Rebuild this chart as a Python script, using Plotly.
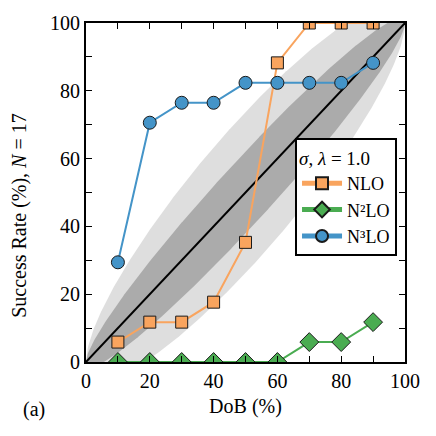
import numpy as np
import plotly.graph_objects as go

# ---- data ----
dob = [10, 20, 30, 40, 50, 60, 70, 80, 90]
N_OBS = 17
nlo = [5.88, 11.76, 11.76, 17.65, 35.29, 88.24, 100.0, 100.0, 100.0]
n2lo = [0.0, 0.0, 0.0, 0.0, 0.0, 0.0, 5.88, 5.88, 11.76]
n3lo = [29.41, 70.59, 76.47, 76.47, 82.35, 82.35, 82.35, 82.35, 88.24]
series_names = ["NLO", "N²LO", "N³LO"]
x_ticks = [0, 20, 40, 60, 80, 100]
y_ticks = [0, 20, 40, 60, 80, 100]

FONT = "Liberation Serif"

# ---- binomial bands (normal approximation, N = 17) ----
p = np.linspace(0, 1, 401)
sig = np.sqrt(p * (1 - p) / N_OBS)

def band(z):
    lo = np.clip(p - z * sig, 0, 1) * 100
    hi = np.clip(p + z * sig, 0, 1) * 100
    xs = np.concatenate([p * 100, p[::-1] * 100])
    ys = np.concatenate([hi, lo[::-1]])
    return xs, ys

fig = go.Figure()
for z, col in [(1.96, "#dedede"), (1.0, "#ababab")]:
    bx, by = band(z)
    fig.add_trace(go.Scatter(x=bx, y=by, fill="toself", fillcolor=col,
                             line=dict(width=0), mode="lines",
                             showlegend=False, hoverinfo="skip"))

fig.add_trace(go.Scatter(x=[0, 100], y=[0, 100], mode="lines",
                         line=dict(color="black", width=2),
                         showlegend=False, hoverinfo="skip"))

styles = [
    (nlo, "#f9a45e", "square", 12),
    (n2lo, "#4aac51", "diamond", 14.5),
    (n3lo, "#4494c8", "circle", 13),
]
for (vals, col, sym, size), name in zip(styles, series_names):
    fig.add_trace(go.Scatter(
        x=dob, y=vals, mode="lines+markers", name=name,
        line=dict(color=col, width=2),
        marker=dict(symbol=sym, size=size, color=col,
                    line=dict(color="#1a1a1a", width=1)),
    ))

axis_common = dict(
    range=[0, 100], showgrid=False, zeroline=False,
    showline=True, linecolor="black", linewidth=2, mirror="allticks",
    ticks="inside", ticklen=6, tickwidth=1.2, tickcolor="black",
    tickfont=dict(family=FONT, size=20, color="black"),
    minor=dict(dtick=10, ticks="inside", ticklen=6, tickwidth=1.2, tickcolor="black"),
    layer="above traces",
)

fig.update_layout(
    width=436, height=436,
    margin=dict(l=86, r=31, t=23, b=74),
    plot_bgcolor="white", paper_bgcolor="white",
    font=dict(family=FONT, size=20, color="black"),
    xaxis=dict(**axis_common, tickvals=x_ticks,
               title=dict(text="DoB (%)", font=dict(family=FONT, size=20), standoff=8)),
    yaxis=dict(**axis_common, tickvals=y_ticks),
    legend=dict(
        title=dict(text="<i>σ</i>, <i>λ</i> = 1.0", side="top",
                   font=dict(family=FONT, size=19)),
        font=dict(family=FONT, size=18),
        x=0.975, y=0.66, xanchor="right", yanchor="top",
        bgcolor="white", bordercolor="black", borderwidth=2,
        tracegroupgap=0, itemsizing="constant", itemwidth=40,
    ),
    annotations=[
        dict(text="(a)", xref="paper", yref="paper",
             x=-0.163, y=-0.139, xanchor="center", yanchor="middle",
             showarrow=False, font=dict(family=FONT, size=20)),
        dict(text="Success Rate (%), <i>N</i> = 17", xref="paper", yref="paper",
             x=-0.207, y=0.434, xanchor="center", yanchor="middle", textangle=-90,
             showarrow=False, font=dict(family=FONT, size=20)),
    ],
)

fig.write_html("out.html")
